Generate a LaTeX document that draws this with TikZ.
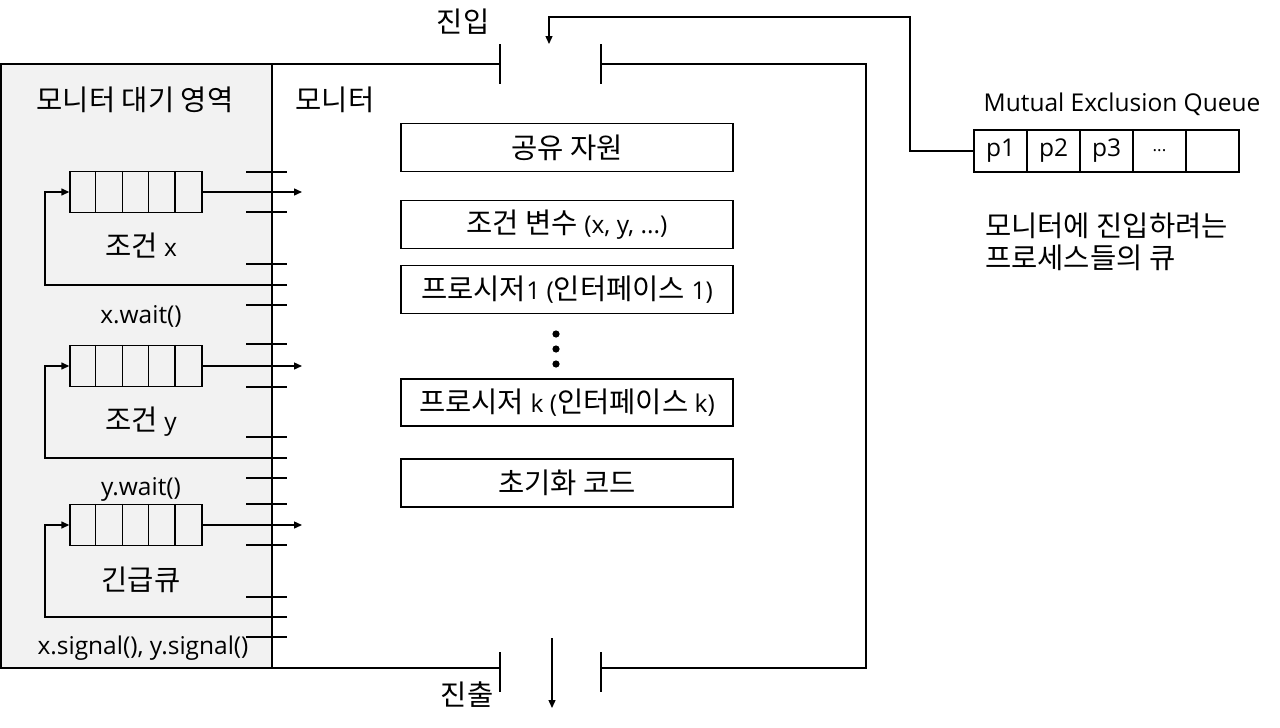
\documentclass[tikz,border=0pt]{standalone}
\usepackage{fontspec}
\setmainfont{Open Sans}
\newfontfamily\krfont{Noto Sans CJK KR}[Scale=1.165]
\newcommand{\kor}[1]{{\krfont #1}}
\usetikzlibrary{arrows.meta}
\begin{document}
\begin{tikzpicture}[x=1pt,y=-1pt,
  every node/.style={font=\fontsize{24.5}{29}\selectfont, inner sep=0pt},
  ln/.style={line width=1.4pt},
  arr/.style={line width=1.4pt, -{Triangle[length=8pt,width=7pt]}},
  qbox/.style={draw, line width=1.4pt, minimum width=132pt, minimum height=41pt},
  mbox/.style={draw, line width=1.4pt, minimum width=332pt, minimum height=48pt},
  cell/.style={draw, line width=1.2pt, minimum width=53pt, minimum height=42pt},
  tick/.style={line width=1.2pt}
]
\useasboundingbox (0,0) rectangle (1280,728);
% waiting area background
\fill[gray!10] (1,64) rectangle (272,668);
% frame
\draw[ln] (500,64) -- (1,64) -- (1,668) -- (500,668);
\draw[ln] (601,64) -- (866,64) -- (866,668) -- (601,668);
\draw[ln] (272,64) -- (272,668);
% gates
\draw[ln] (500,44) -- (500,84);
\draw[ln] (601,44) -- (601,84);
\draw[ln] (500,652) -- (500,692);
\draw[ln] (601,652) -- (601,692);

% labels
\node (lwait) at (135,100) {\kor{모니터 대기 영역}};
\node (lmon) at (335,100) {\kor{모니터}};
\node (lin) at (463,22) {\kor{진입}};
\node (lout) at (467,695) {\kor{진출}};

% queues
\node[qbox] (qx) at (136,192) {};
\node[qbox] (qy) at (136,366) {};
\node[qbox] (qe) at (136,525) {};
\foreach \q in {qx,qy,qe}{
  \foreach \i in {1,...,4}{
    \draw[line width=1.2pt] ([xshift=\i*26.4pt]\q.north west) -- ([xshift=\i*26.4pt]\q.south west);
  }
}
\coordinate (ox) at (302,192);
\coordinate (oy) at (302,366);
\coordinate (oe) at (302,525);
\coordinate (rx) at (287,285);
\coordinate (ry) at (287,458);
\coordinate (re) at (287,617);
\draw[arr] (qx.east) -- (ox);
\draw[arr] (qy.east) -- (oy);
\draw[arr] (qe.east) -- (oe);
\draw[arr] (rx) -- (45,285) |- (qx.west);
\draw[arr] (ry) -- (45,458) |- (qy.west);
\draw[arr] (re) -- (45,617) |- (qe.west);
% ticks
\foreach \y in {172,212,264,305,344,387,437,478,504,545,597,637}{
  \draw[tick] (246,\y) -- (287,\y);
}
\node (tx) at (141,246) {\kor{조건} x};
\node (wx) at (141,316) {x.wait()};
\node (ty) at (141,422) {\kor{조건} y};
\node (wy) at (141,489) {y.wait()};
\node (te) at (141,580) {\kor{긴급큐}};
\node (sg) at (143,648) {x.signal(), y.signal()};

% monitor boxes
\node[mbox] (b1) at (567,147.5) {\kor{공유 자원}};
\node[mbox] (b2) at (567,224.5) {\kor{조건 변수} (x, y, ...)};
\node[mbox] (b3) at (567,289.5) {\kor{프로시저}1 (\kor{인터페이스} 1)};
\node[mbox, minimum height=47pt] (b4) at (567,402.5) {\kor{프로시저} k (\kor{인터페이스} k)};
\node[mbox] (b5) at (567,483) {\kor{초기화 코드}};
\fill (556,334) circle (3.6pt);
\fill (556,349) circle (3.6pt);
\fill (556,364) circle (3.6pt);

% mutual exclusion queue
\node (mtitle) at (1122,104) {Mutual Exclusion Queue};
\node[cell] (c1) at (1000.5,151) {p1};
\node[cell] (c2) at (1053.5,151) {p2};
\node[cell] (c3) at (1106.5,151) {p3};
\node[cell] (c4) at (1159.5,151) {\fontsize{17}{20}\selectfont ...};
\node[cell] (c5) at (1212.5,151) {};
\coordinate (ein) at (549,44);
\draw[arr] (c1.west) -- (910,151) -- (910,17) -- (549,17) -- (ein);
\node[anchor=west] (d1) at (985,226) {\kor{모니터에 진입하려는}};
\node[anchor=west] (d2) at (985,258) {\kor{프로세스들의 큐}};

% exit
\coordinate (x1) at (552,638);
\coordinate (x2) at (552,708);
\draw[arr] (x1) -- (x2);
\end{tikzpicture}
\end{document}
